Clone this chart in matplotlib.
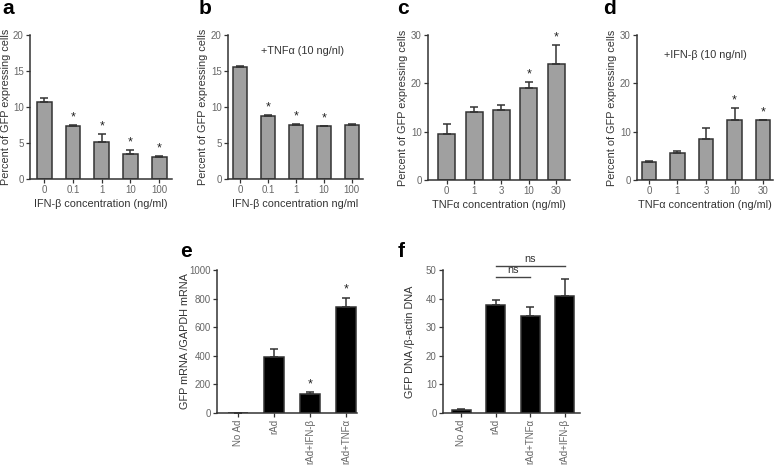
import matplotlib
matplotlib.use("Agg")
import matplotlib.pyplot as plt
import numpy as np

plt.rcParams['font.family'] = ['Liberation Sans', 'DejaVu Sans']

# panel a
a_cats = ['0', '0.1', '1', '10', '100']
a_vals = [10.7, 7.3, 5.1, 3.5, 3.05]
a_err = [0.55, 0.25, 1.15, 0.55, 0.1]
a_star = [False, True, True, True, True]

# panel b
b_cats = ['0', '0.1', '1', '10', '100']
b_vals = [15.5, 8.8, 7.5, 7.3, 7.5]
b_err = [0.25, 0.1, 0.1, 0.1, 0.15]
b_star = [False, True, True, True, False]

# panel c
c_cats = ['0', '1', '3', '10', '30']
c_vals = [9.6, 14.1, 14.4, 19.0, 24.1]
c_err = [1.9, 1.0, 1.2, 1.2, 3.9]
c_star = [False, False, False, True, True]

# panel d
d_cats = ['0', '1', '3', '10', '30']
d_vals = [3.7, 5.6, 8.5, 12.4, 12.4]
d_err = [0.25, 0.5, 2.2, 2.6, 0.1]
d_star = [False, False, False, True, True]

# panel e
e_cats = ['No Ad', 'rAd', 'rAd+IFN-β', 'rAd+TNFα']
e_vals = [2, 390, 130, 740]
e_err = [0, 55, 15, 65]
e_star = [False, False, True, True]

# panel f
f_cats = ['No Ad', 'rAd', 'rAd+TNFα', 'rAd+IFN-β']
f_vals = [1.0, 37.7, 34.0, 40.8]
f_err = [0.25, 1.7, 3.0, 5.9]
f_star = [False, False, False, False]

W, H = 778, 468
fig = plt.figure(figsize=(W / 100, H / 100), dpi=100)

tick_col = '#666666'
spine_col = '#333333'


def px_axes(x0, x1, top, bot):
    return fig.add_axes([x0 / W, 1 - bot / H, (x1 - x0) / W, (bot - top) / H])


def panel(ax, box, cats, vals, err, stars, ymax, ystep, color, width, xlim,
          ylabel, ylab_px, xlabel=None, rot=0, star_off=0.0):
    x = np.arange(len(cats))
    ax.bar(x, vals, width=width, color=color, edgecolor=spine_col, linewidth=1.1, zorder=2)
    lo = np.zeros(len(vals))
    ax.errorbar(x, vals, yerr=[lo, err], fmt='none', ecolor=spine_col,
                elinewidth=1.1, capsize=3.2, capthick=1.1, zorder=3)
    for xi, v, e, s in zip(x, vals, err, stars):
        if s:
            ax.text(xi, v + e + star_off, '*', ha='center', va='bottom',
                    fontsize=9, color='#222222')
    ax.set_xlim(*xlim)
    ax.set_ylim(0, ymax)
    ax.set_yticks(np.arange(0, ymax + 1, ystep))
    ax.set_xticks(x)
    ax.set_xticklabels(cats, rotation=rot)
    for s in ['top', 'right']:
        ax.spines[s].set_visible(False)
    for s in ['left', 'bottom']:
        ax.spines[s].set_color(spine_col)
        ax.spines[s].set_linewidth(1.1)
    ax.tick_params(labelsize=7, colors=spine_col, labelcolor=tick_col,
                   length=3, width=0.9, pad=1.5)
    ax.set_ylabel(ylabel, fontsize=7.8, color='#333333')
    # ylab_px = right edge of the rotated label, in figure pixels
    x0, x1 = box
    ax.yaxis.set_label_coords((ylab_px - x0) / (x1 - x0), 0.5)
    if xlabel:
        ax.set_xlabel(xlabel, fontsize=7.8, color='#333333', labelpad=3)


gray = '#a0a0a0'
ylab = 'Percent of GFP expressing cells'

ax_a = px_axes(30, 172, 35, 179)
panel(ax_a, (30, 172), a_cats, a_vals, a_err, a_star, 20, 5, gray, 0.52, (-0.5, 4.45),
      ylab, 11, 'IFN-β concentration (ng/ml)', star_off=0.2)

ax_b = px_axes(228, 363, 35, 179)
panel(ax_b, (228, 363), b_cats, b_vals, b_err, b_star, 20, 5, gray, 0.5, (-0.43, 4.4),
      ylab, 208, 'IFN-β concentration ng/ml', star_off=0.2)
ax_b.text(0.55, 0.89, '+TNFα (10 ng/nl)', transform=ax_b.transAxes,
          ha='center', va='center', fontsize=7.8, color='#333333')

ax_c = px_axes(428, 570, 35, 180)
panel(ax_c, (428, 570), c_cats, c_vals, c_err, c_star, 30, 10, gray, 0.62, (-0.68, 4.5),
      ylab, 408, 'TNFα concentration (ng/ml)', star_off=0.3)

ax_d = px_axes(637, 773, 35, 180)
panel(ax_d, (637, 773), d_cats, d_vals, d_err, d_star, 30, 10, gray, 0.5, (-0.42, 4.35),
      ylab, 617, 'TNFα concentration (ng/ml)', star_off=0.3)
ax_d.text(0.5, 0.86, '+IFN-β (10 ng/nl)', transform=ax_d.transAxes,
          ha='center', va='center', fontsize=7.8, color='#333333')

ax_e = px_axes(217, 357, 270, 413)
panel(ax_e, (217, 357), e_cats, e_vals, e_err, e_star, 1000, 200, 'black', 0.55, (-0.58, 3.3),
      'GFP mRNA /GAPDH mRNA', 190, rot=90, star_off=15)

ax_f = px_axes(443, 580, 270, 413)
panel(ax_f, (443, 580), f_cats, f_vals, f_err, f_star, 50, 10, 'black', 0.55, (-0.53, 3.45),
      'GFP DNA /β-actin DNA', 415, rot=90)
for x_end, yb in [(2, 47.5), (3, 51.4)]:
    ax_f.plot([1, x_end], [yb, yb], color='#444444', lw=1.0, clip_on=False)
    ax_f.text((1 + x_end) / 2, yb + 0.6, 'ns', ha='center', va='bottom',
              fontsize=7.8, color='#333333')

for lab, x, y in [('a', 2, 14), ('b', 199, 14), ('c', 397, 14), ('d', 603, 14),
                  ('e', 180, 257), ('f', 398, 257)]:
    fig.text(x / W, 1 - y / H, lab, fontsize=15, fontweight='bold', ha='left', va='baseline')

fig.savefig('out.png', dpi=100)
